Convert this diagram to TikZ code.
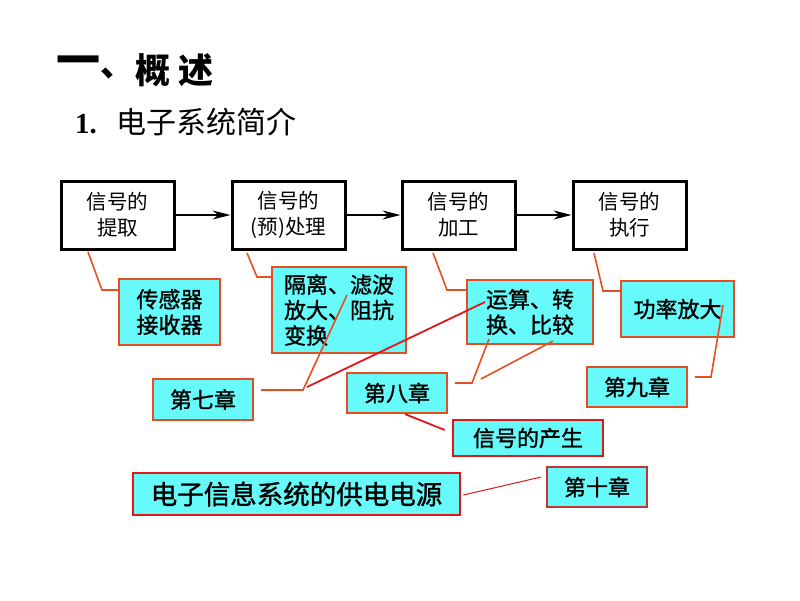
\documentclass[tikz,border=0pt]{standalone}
\usepackage{fontspec}
\usetikzlibrary{arrows.meta,calc}
\newfontfamily\cjk{Noto Sans CJK SC}
\newfontfamily\cjkm{Noto Sans CJK SC}[FakeBold=1.2]
\newfontfamily\tnr{Liberation Serif}
\definecolor{cyanf}{RGB}{102,250,250}
\definecolor{orl}{RGB}{228,78,32}
\definecolor{redl}{RGB}{222,24,24}
\definecolor{dred}{RGB}{200,50,50}
\begin{document}
\begin{tikzpicture}[x=1pt,y=-1pt,
  blk/.style={draw=black,line width=3pt,minimum width=113pt,minimum height=68pt,inner sep=0pt,align=center,font=\cjk\fontsize{20.5}{26}\selectfont},
  cy/.style={fill=cyanf,draw=orl,line width=2.2pt,inner sep=0pt,align=left,font=\cjkm\fontsize{22}{25.5}\selectfont},
  cyr/.style={cy,draw=redl,line width=2.6pt},
  conn/.style={draw=orl,line width=1.6pt},
  connr/.style={draw=redl,line width=1.8pt},
  arr/.style={draw=black,line width=1.5pt,-{Stealth[length=18pt,width=9pt]}},
  ttl/.style={inner sep=0pt}]
\useasboundingbox (0,0) rectangle (800,600);
% titles
\node[ttl,anchor=west,font=\cjk\bfseries\fontsize{44}{44}\selectfont] (t1) at (56,67) {一{\fontsize{34}{34}\selectfont 、}};
\node[ttl,anchor=west,font=\cjk\bfseries\fontsize{35}{35}\selectfont] (t3) at (135,70) {概\hspace{8pt}述};
\node[ttl,anchor=west,font=\tnr\bfseries\fontsize{29}{29}\selectfont] (n1) at (75,124) {1.};
\node[ttl,anchor=west,font=\cjk\fontsize{30}{30}\selectfont] (n2) at (116,122) {电子系统简介};
% top chain
\node[blk] (b1) at (117.5,215) {信号的\\提取};
\node[blk] (b2) at (288.5,215) {信号的\\(预)处理};
\node[blk] (b3) at (458.5,215) {信号的\\加工};
\node[blk] (b4) at (629.5,215) {信号的\\执行};
\draw[arr] (b1) -- (b2);
\draw[arr] (b2) -- (b3);
\draw[arr] (b3) -- (b4);
% cyan boxes
\node[cy,minimum width=101pt,minimum height=66pt] (A) at (169.5,312) {传感器\\接收器};
\node[cy,minimum width=134pt,minimum height=86pt] (B) at (339,310) {隔离、滤波\\放大、阻抗\\变换};
\node[cy,minimum width=126pt,minimum height=64pt] (C) at (530,312) {运算、转\\换、比较};
\node[cy,minimum width=113pt,minimum height=56pt] (D) at (677.5,309) {功率放大};
\node[cy,minimum width=100pt,minimum height=40pt] (E) at (637,387) {第九章};
\node[cy,minimum width=100pt,minimum height=40pt] (F) at (397,393) {第八章};
\node[cy,minimum width=100pt,minimum height=41pt] (G) at (203,399.5) {第七章};
\node[cyr,minimum width=150pt,minimum height=36pt] (H) at (528,438) {信号的产生};
\node[cyr,minimum width=327pt,minimum height=42pt,font=\cjkm\fontsize{26.5}{30}\selectfont] (I) at (296.5,494) {电子信息系统的供电电源};
\node[cy,draw=dred,line width=1.6pt,minimum width=100pt,minimum height=40pt] (J) at (597,487) {第十章};
% free ends
\coordinate (p1) at (88,252);
\coordinate (p2) at (247,253);
\coordinate (p3) at (433,253);
\coordinate (p4) at (594,253);
\coordinate (q5) at (723,305);
\coordinate (q6a) at (489,339);
\coordinate (q6b) at (553,341);
\coordinate (q7a) at (347,295);
\coordinate (q7b) at (485,302);
% connectors
\draw[conn] (p1) -- (102,290) -- (A.west |- 0,290);
\draw[conn] (p2) -- (257,277) -- (B.west |- 0,277);
\draw[conn] (p3) -- (447,290) -- (C.west |- 0,290);
\draw[conn] (p4) -- (603,291) -- (D.west |- 0,291);
\draw[conn] (q5) -- (711,377) -- ($(E.east)+(7,-10)$);
\draw[conn] ($(F.east)+(7,-10)$) -- (472,383) -- (q6a);
\draw[conn] (481,379) -- (q6b);
\draw[conn] ($(G.east)+(7,-9.5)$) -- (303,390) -- (q7a);
\draw[connr] (307,387) -- (q7b);
\draw[connr] ($(F.south)+(8,0)$) -- ($(H.west)+(-7,-8)$);
\draw[draw=redl,line width=1pt] ($(I.east)+(2,1)$) -- ($(J.west)+(-5,-10)$);
\end{tikzpicture}
\end{document}
